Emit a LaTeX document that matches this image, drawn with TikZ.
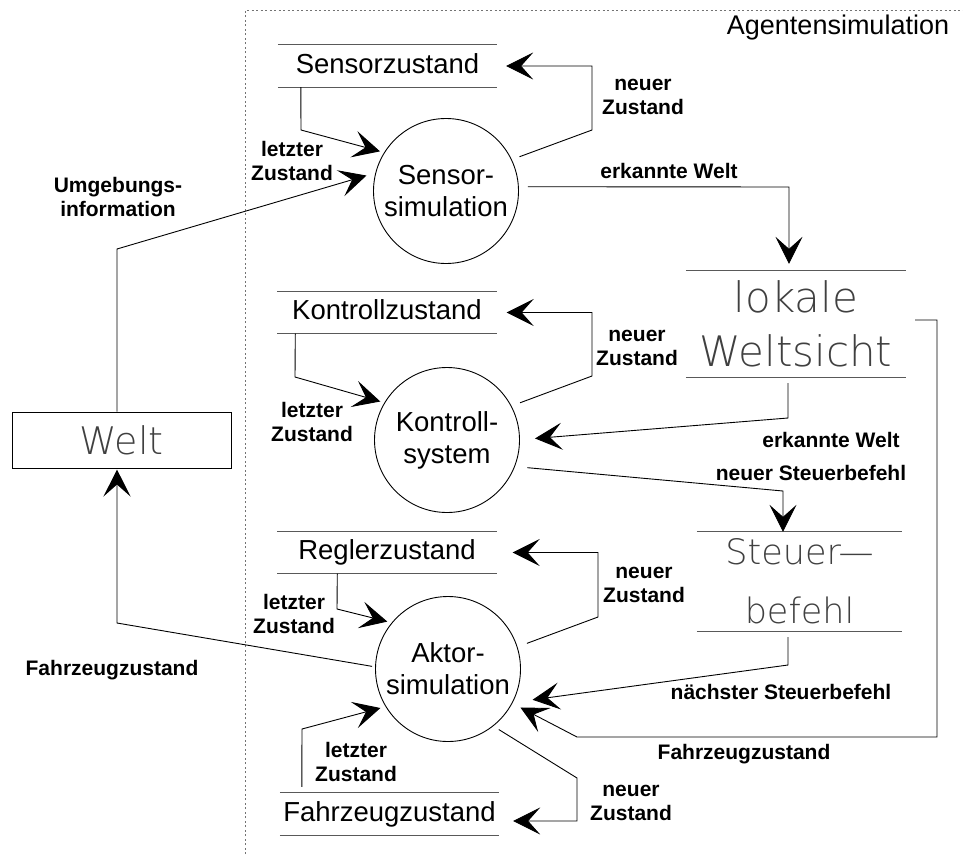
\documentclass[tikz,border=0pt]{standalone}
\usepackage{fontspec}
\setmainfont{Liberation Sans}
\newfontfamily\thinfont{DejaVuSans-ExtraLight.ttf}
\usetikzlibrary{arrows.meta,calc}
\begin{document}
\begin{tikzpicture}[x=1pt,y=-1pt]
\tikzset{
  conn/.style={line width=0.9pt, -{Stealth[length=27pt,width=27pt,inset=12pt]}},
  proc/.style={circle, draw, line width=0.9pt, minimum size=145pt, inner sep=0pt, align=center, font=\fontsize{27.5}{32}\selectfont},
  store/.style={minimum width=219pt, minimum height=42pt, inner sep=0pt, text height=20pt, text depth=6pt, font=\fontsize{27.5}{32}\selectfont},
  bigstore/.style={inner sep=0pt, align=center, text=black!75},
  storeline/.style={line width=1.3pt, draw=black!65},
  lbl/.style={align=center, font=\bfseries\fontsize{21}{24}\selectfont, inner sep=0pt},
  border/.style={draw=black!55, line width=1pt, dash pattern=on 2pt off 2.5pt}
}
\useasboundingbox (0,0) rectangle (963,854);
\fill[white] (0,0) rectangle (963,854);

% frame of the agent simulation
\draw[border] (245,854) -- (245,10) -- (963,10);
\node[font=\fontsize{27}{32}\selectfont, inner sep=0pt] (title) at (838,28) {Agentensimulation};

% processes
\node[proc] (sens) at (446,191) {Sensor-\\simulation};
\node[proc] (kon) at (447,440) {Kontroll-\\system};
\node[proc] (akt) at (448,669) {Aktor-\\simulation};

% stores
\node[store] (sz) at (387.5,66) {Sensorzustand};
\node[store] (kz) at (387,312.5) {Kontrollzustand};
\node[store] (rz) at (387,552.5) {Reglerzustand};
\node[store] (fz) at (389.5,814) {Fahrzeugzustand};
\foreach \s in {sz,kz,rz,fz}{
  \draw[storeline] (\s.north west) -- (\s.north east);
  \draw[storeline] (\s.south west) -- (\s.south east);
}
\node[bigstore, minimum width=220pt, minimum height=106pt, font=\thinfont\fontsize{42}{54}\selectfont] (lws) at (796,324) {lokale\\Weltsicht};
\node[bigstore, minimum width=205pt, minimum height=99pt, font=\thinfont\fontsize{35}{59}\selectfont] (stb) at (799.5,581.5) {Steuer—\\befehl};
\foreach \s in {lws,stb}{
  \draw[storeline] (\s.north west) -- (\s.north east);
  \draw[storeline] (\s.south west) -- (\s.south east);
}
\node[draw, line width=1pt, minimum width=219pt, minimum height=56pt, inner sep=0pt, text=black!75, font=\thinfont\fontsize{38}{40}\selectfont] (welt) at (121.5,440) {Welt};

% Sensor simulation flows
\draw[conn] ($(sens.center)+(25:81pt)$) -- (592,130) |- ($(sz.east)+(9,0)$);
\draw[conn] ($(sz.south west)+(23,0)$) -- (301,130) -- ($(sens.center)+(149:77pt)$);
\draw[conn] ($(welt.north)+(-4.5,0)$) -- (117,249) -- ($(sens.center)+(169:81pt)$);
\draw[conn] ($(sens.center)+(3:82pt)$) -- (789,187) -- ($(lws.north)+(-7,-7)$);

% Kontrollsystem flows
\draw[conn] ($(kz.south west)+(18,0)$) -- (295,377) -- ($(kon.center)+(150:77pt)$);
\draw[conn] ($(kon.center)+(27:82pt)$) -- (592,376) |- ($(kz.east)+(10,0)$);
\draw[conn] ($(lws.south)+(-8,6)$) -- (788,418) -- ($(kon.center)+(1:88pt)$);
\draw[conn] ($(kon.center)+(-19:85pt)$) -- (783,491) -- ($(stb.north)+(-16.5,0)$);

% Aktorsimulation flows
\draw[conn] ($(stb.south)+(-11.5,6)$) -- (788,665) -- ($(akt.center)+(-20:90pt)$);
\draw[conn] ($(lws.east)+(9,-4)$) -- (937,320) -- (937,737) -- (577,737) -- ($(akt.center)+(-28:82pt)$);
\draw[conn] ($(akt.center)+(178:76pt)$) -- (117,623) -- ($(welt.south)+(-4.5,1)$);
\draw[conn] ($(rz.south west)+(60,0)$) -- (337,609) -- ($(akt.center)+(142:77pt)$);
\draw[conn] ($(akt.center)+(18:83pt)$) -- (598,617) |- ($(rz.east)+(16,0)$);
\draw[conn] ($(fz.north west)+(22,-6)$) -- (302,729) -- ($(akt.center)+(210:78pt)$);
\draw[conn] ($(akt.center)+(-50:79pt)$) -- (577,778) |- ($(fz.east)+(14,7)$);

% labels
\node[lbl] (l1) at (643,97) {neuer\\Zustand};
\node[lbl] (l2) at (292,161) {letzter\\Zustand};
\node[lbl] (l3) at (118,197) {Umgebungs-\\information};
\node[lbl] (l4) at (669,171) {erkannte Welt};
\node[lbl] (l5) at (312,422) {letzter\\Zustand};
\node[lbl] (l6) at (637,348) {neuer\\Zustand};
\node[lbl] (l7) at (831,440) {erkannte Welt};
\node[lbl] (l8) at (811,473) {neuer Steuerbefehl};
\node[lbl] (l9) at (781,692) {nächster Steuerbefehl};
\node[lbl] (l10) at (744,754) {Fahrzeugzustand};
\node[lbl] (l11) at (112,670) {Fahrzeugzustand};
\node[lbl] (l12) at (294,614) {letzter\\Zustand};
\node[lbl] (l13) at (644,585) {neuer\\Zustand};
\node[lbl] (l14) at (356,762) {letzter\\Zustand};
\node[lbl] (l15) at (631,803) {neuer\\Zustand};
\end{tikzpicture}
\end{document}
